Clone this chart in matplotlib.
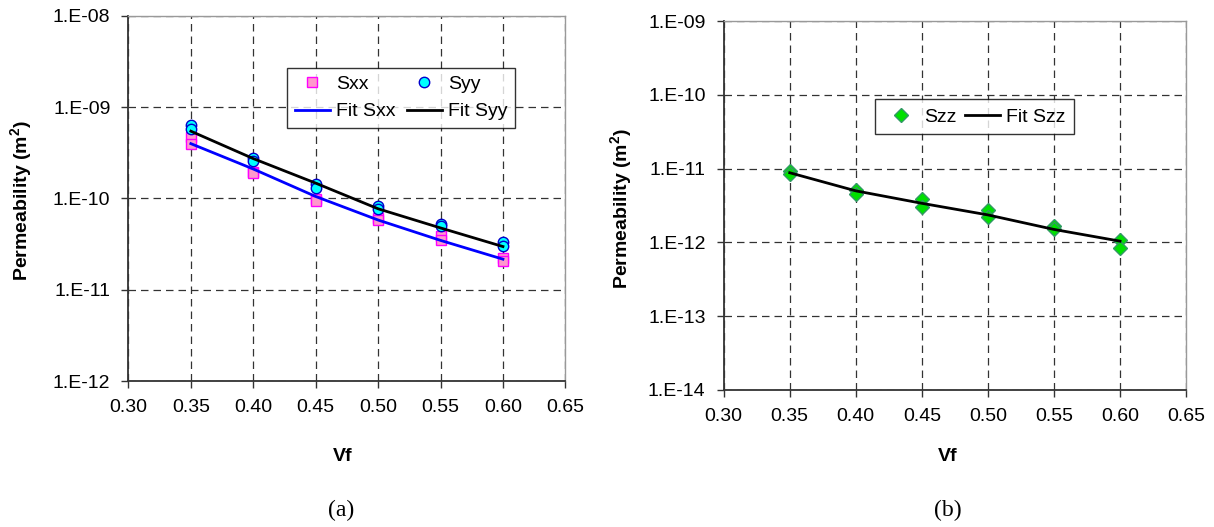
import math
import matplotlib
matplotlib.use("Agg")
import matplotlib.pyplot as plt
from matplotlib.ticker import FixedLocator, FuncFormatter, NullLocator

plt.rcParams['font.family'] = ['Liberation Sans', 'DejaVu Sans']
plt.rcParams['mathtext.fontset'] = 'custom'
plt.rcParams['mathtext.bf'] = 'Liberation Sans:bold'
plt.rcParams['mathtext.default'] = 'bf'

# data (two replicates per Vf)
vf = [0.35, 0.40, 0.45, 0.50, 0.55, 0.60]
sxx_1 = [4.7e-10, 1.97e-10, 9.8e-11, 6.1e-11, 3.9e-11, 2.2e-11]
sxx_2 = [3.9e-10, 1.88e-10, 9.3e-11, 5.75e-11, 3.5e-11, 2.05e-11]
syy_1 = [6.4e-10, 2.74e-10, 1.43e-10, 8.2e-11, 5.3e-11, 3.3e-11]
syy_2 = [5.7e-10, 2.6e-10, 1.29e-10, 7.6e-11, 5.0e-11, 3.0e-11]
fit_sxx = [3.98e-10, 2.1e-10, 1.05e-10, 5.8e-11, 3.47e-11, 2.16e-11]
fit_syy = [5.45e-10, 2.73e-10, 1.47e-10, 7.7e-11, 4.75e-11, 2.97e-11]

szz_1 = [9.3e-12, 5.2e-12, 3.84e-12, 2.75e-12, 1.66e-12, 1.07e-12]
szz_2 = [8.4e-12, 4.5e-12, 3.05e-12, 2.2e-12, 1.5e-12, 8.5e-13]
fit_szz = [8.8e-12, 5.0e-12, 3.39e-12, 2.36e-12, 1.5e-12, 1.04e-12]

x_ticks = [0.30, 0.35, 0.40, 0.45, 0.50, 0.55, 0.60, 0.65]
left_decades = [-12, -11, -10, -9, -8]
right_decades = [-14, -13, -12, -11, -10, -9]

fig = plt.figure(figsize=(12.14, 5.27), dpi=100)
ax1 = fig.add_axes([0.1058, 0.277, 0.3599, 0.693])
ax2 = fig.add_axes([0.5961, 0.260, 0.3809, 0.700])


def style_axis(ax, decades):
    ax.set_yscale('log')
    ax.set_xlim(0.30, 0.65)
    ax.set_ylim(10.0 ** decades[0], 10.0 ** decades[-1])
    ax.xaxis.set_major_locator(FixedLocator(x_ticks))
    ax.xaxis.set_major_formatter(FuncFormatter(lambda v, p: f"{v:.2f}"))
    ax.yaxis.set_major_locator(FixedLocator([10.0 ** d for d in decades]))
    ax.yaxis.set_minor_locator(NullLocator())
    ax.yaxis.set_major_formatter(FuncFormatter(lambda v, p: f"1.E-{-round(math.log10(v)):02d}"))
    ax.tick_params(axis='both', direction='out', length=5, width=1, labelsize=14,
                   color='#333333', pad=8)
    ax.grid(True, which='major', color='#333333', linestyle=(0, (6, 4)), linewidth=0.9)
    ax.set_axisbelow(True)
    for s in ['left', 'bottom']:
        ax.spines[s].set_color('#333333')
        ax.spines[s].set_linewidth(1.3)
    for s in ['top', 'right']:
        ax.spines[s].set_color('#999999')
        ax.spines[s].set_linewidth(1.0)
    ax.set_xlabel('Vf', fontsize=14, fontweight='bold')
    ax.set_ylabel(r'Permeability (m$^{2}$)', fontsize=14, fontweight='bold')
    ax.xaxis.label.set_va('center')
    ax.yaxis.label.set_va('center')


style_axis(ax1, left_decades)
style_axis(ax2, right_decades)

# panel (a)
sq = dict(marker='s', markersize=7, markerfacecolor='#FF99CC',
          markeredgecolor='#FF00FF', markeredgewidth=1.0, linestyle='none')
ci = dict(marker='o', markersize=7.5, markerfacecolor='#00FFFF',
          markeredgecolor='#0000CC', markeredgewidth=1.0, linestyle='none')
h_sxx, = ax1.plot(vf, sxx_1, **sq)
ax1.plot(vf, sxx_2, **sq)
h_syy, = ax1.plot(vf, syy_1, **ci)
ax1.plot(vf, syy_2, **ci)
h_fsxx, = ax1.plot(vf, fit_sxx, color='#0000FF', linewidth=2.0)
h_fsyy, = ax1.plot(vf, fit_syy, color='black', linewidth=2.0)

leg1 = ax1.legend([h_sxx, h_fsxx, h_syy, h_fsyy], ['Sxx', 'Fit Sxx', 'Syy', 'Fit Syy'],
                  ncol=2, loc='upper left', bbox_to_anchor=(0.363, 0.858),
                  borderaxespad=0, fontsize=14, frameon=True, fancybox=False,
                  handlelength=1.8, handletextpad=0.3, columnspacing=0.6,
                  labelspacing=0.5, borderpad=0.4)
leg1.get_frame().set_edgecolor('black')
leg1.get_frame().set_linewidth(1.0)

ax1.xaxis.set_label_coords(0.491, -0.208)
ax1.yaxis.set_label_coords(-0.246, 0.493)

# panel (b)
di = dict(marker='D', markersize=7.5, markerfacecolor='#00E000',
          markeredgecolor='#339966', markeredgewidth=1.0, linestyle='none')
h_szz, = ax2.plot(vf, szz_1, **di)
ax2.plot(vf, szz_2, **di)
h_fszz, = ax2.plot(vf, fit_szz, color='black', linewidth=2.0)

leg2 = ax2.legend([h_szz, h_fszz], ['Szz', 'Fit Szz'], ncol=2, loc='upper left',
                  bbox_to_anchor=(0.327, 0.788), borderaxespad=0, fontsize=14,
                  frameon=True, fancybox=False, handlelength=1.8,
                  handletextpad=0.3, columnspacing=0.4, borderpad=0.45)
leg2.get_frame().set_edgecolor('black')
leg2.get_frame().set_linewidth(1.0)

ax2.xaxis.set_label_coords(0.485, -0.1816)
ax2.yaxis.set_label_coords(-0.221, 0.492)

fig.text(341 / 1214, 1 - 510 / 527, '(a)', fontsize=17, family='Liberation Serif',
         ha='center', va='center')
fig.text(948 / 1214, 1 - 510 / 527, '(b)', fontsize=17, family='Liberation Serif',
         ha='center', va='center')

fig.savefig('out.png', dpi=100)
